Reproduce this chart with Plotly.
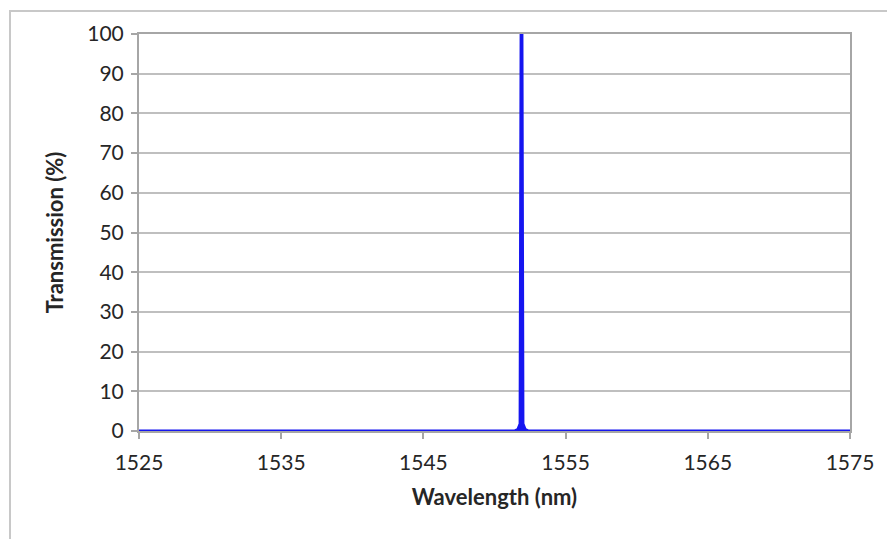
import plotly.graph_objects as go

wavelength = [1525, 1535, 1545, 1551.4, 1551.65, 1551.8, 1551.87, 1551.93, 1552.0, 1552.15, 1552.4, 1555, 1565, 1575]
transmission = [0, 0, 0, 0, 0.4, 1.8, 100, 100, 1.8, 0.4, 0, 0, 0, 0]

x_ticks = [1525, 1535, 1545, 1555, 1565, 1575]
y_ticks = [0, 10, 20, 30, 40, 50, 60, 70, 80, 90, 100]

fig = go.Figure()
fig.add_trace(go.Scatter(
    x=wavelength, y=transmission, mode="lines",
    line=dict(color="#1515f0", width=3),
    fill="tozeroy", fillcolor="#1515f0",
    hoverinfo="skip", showlegend=False,
))

font_family = "Lato, 'Open Sans', sans-serif"
axis_col = "#a6a6a6"
txt_col = "#262626"

L, T, W, H = 131, 24, 711, 399

fig.update_layout(
    width=895, height=539,
    margin=dict(l=L, r=895 - L - W, t=T, b=539 - T - H),
    paper_bgcolor="white", plot_bgcolor="white",
    font=dict(family=font_family, size=21, color=txt_col),
    xaxis=dict(
        range=[1525, 1575], tickvals=x_ticks, ticktext=[str(v) for v in x_ticks],
        showgrid=False, zeroline=False,
        showline=True, linecolor=axis_col, linewidth=2, mirror=True,
        ticks="outside", ticklen=6, tickcolor=axis_col, tickwidth=2,
        ticklabelstandoff=6,
        title=dict(text="<b>Wavelength (nm)</b>", font=dict(size=22, color=txt_col), standoff=16),
        tickfont=dict(size=21, color=txt_col),
    ),
    yaxis=dict(
        range=[0, 100], tickvals=y_ticks,
        showgrid=True, gridcolor="#bfbfbf", gridwidth=2, zeroline=False,
        showline=True, linecolor=axis_col, linewidth=2, mirror=True,
        ticks="outside", ticklen=6, tickcolor=axis_col, tickwidth=2,
        ticklabelstandoff=3,
        title=dict(text="<b>Transmission (%)</b>", font=dict(size=22, color=txt_col), standoff=18),
        tickfont=dict(size=21, color=txt_col),
    ),
)

# outer chart frame
fig.add_shape(type="rect", xref="paper", yref="paper",
              x0=(2 - L) / W, x1=(885 - L) / W,
              y0=(T + H - 560) / H, y1=(T + H - 1) / H,
              line=dict(color="#c8c8c8", width=2), layer="below")

fig.write_html("out.html")
